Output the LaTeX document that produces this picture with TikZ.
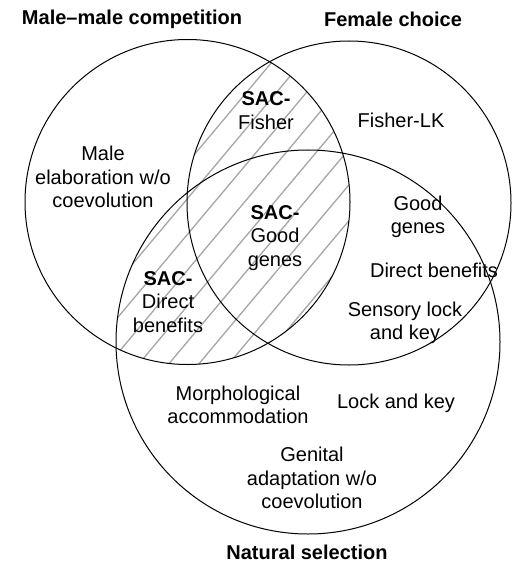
\documentclass[tikz,border=0pt]{standalone}
\usepackage{fontspec}
\setmainfont{Liberation Sans}
\begin{document}
\begin{tikzpicture}[x=1pt,y=-1pt,
  lbl/.style={inner sep=0pt,align=center,font=\fontsize{20}{23.5}\selectfont},
  ttl/.style={inner sep=0pt,align=center,font=\fontsize{20}{23.5}\selectfont\bfseries},
  ring/.style={draw=black,line width=1pt},
  hatchline/.style={draw=black!35,line width=1.3pt}]
\useasboundingbox (0,0) rectangle (513,564);
\coordinate (cA) at (187.5,202);
\coordinate (cB) at (349,203);
\coordinate (cC) at (308,342);
% hatching of A intersected with (B union C)
\begin{scope}
  \clip (cA) circle[radius=162.5pt];
  \clip (cB) circle[radius=162pt] (cC) circle[radius=192pt];
  \foreach \k in {-6,24,...,1014}
    \draw[hatchline] (\k,0) -- ++(-473,564);
\end{scope}
\draw[ring] (cA) circle[radius=162.5pt];
\draw[ring] (cB) circle[radius=162pt];
\draw[ring] (cC) circle[radius=192pt];
% titles
\node[ttl] (tA) at (132,19) {Male–male competition};
\node[ttl] (tB) at (393,19) {Female choice};
\node[ttl] (tC) at (307,552) {Natural selection};
% region labels
\node[lbl] (sacf) at (266,110.5) {\textbf{SAC-}\\Fisher};
\node[lbl] (flk) at (401,120) {Fisher-LK};
\node[lbl] (male) at (103,177) {Male\\elaboration w/o\\coevolution};
\node[lbl] (sacg) at (275,238) {\textbf{SAC-}\\Good\\genes};
\node[lbl] (sacd) at (168,302) {\textbf{SAC-}\\Direct\\benefits};
\node[lbl] (gg) at (418,217) {Good\\genes};
\node[lbl] (db) at (434,270) {Direct benefits};
\node[lbl] (slk) at (405,323) {Sensory lock\\and key};
\node[lbl] (morph) at (238,405) {Morphological\\accommodation};
\node[lbl] (lk) at (396,403) {Lock and key};
\node[lbl] (gen) at (312,478) {Genital\\adaptation w/o\\coevolution};
\end{tikzpicture}
\end{document}
